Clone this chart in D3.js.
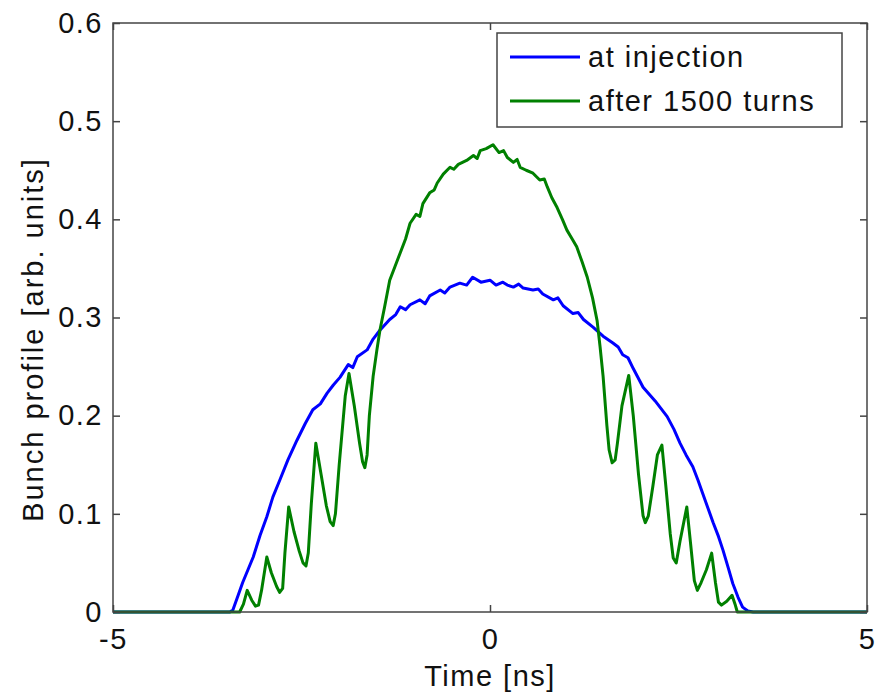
<!DOCTYPE html>
<html>
<head>
<meta charset="utf-8">
<script src="https://cdn.jsdelivr.net/npm/d3@7"></script>
<style>
  body { margin: 0; background: #fff; }
  text { font-family: "Liberation Sans", Arial, sans-serif; fill: #111; }
</style>
</head>
<body>
<div id="chart"></div>
<script>
// bunch profile, [time ns, value]
const atInjection = [
  [-5, 0], [-3.45, 0], [-3.41, 0.002], [-3.34, 0.017], [-3.28, 0.030], [-3.21, 0.043],
  [-3.14, 0.056], [-3.05, 0.078], [-2.96, 0.097], [-2.88, 0.117], [-2.79, 0.134],
  [-2.68, 0.155], [-2.56, 0.175], [-2.45, 0.192], [-2.35, 0.206], [-2.25, 0.212],
  [-2.16, 0.223], [-2.08, 0.231], [-1.99, 0.239], [-1.88, 0.252], [-1.82, 0.249],
  [-1.76, 0.260], [-1.63, 0.267], [-1.55, 0.278], [-1.46, 0.287], [-1.33, 0.298],
  [-1.25, 0.303], [-1.19, 0.311], [-1.12, 0.308], [-1.06, 0.313], [-0.93, 0.318],
  [-0.86, 0.314], [-0.80, 0.322], [-0.66, 0.328], [-0.60, 0.325], [-0.53, 0.331],
  [-0.40, 0.335], [-0.31, 0.333], [-0.23, 0.341], [-0.12, 0.336], [0, 0.338],
  [0.08, 0.333], [0.17, 0.336], [0.23, 0.333], [0.31, 0.331], [0.38, 0.334],
  [0.44, 0.330], [0.57, 0.328], [0.64, 0.329], [0.70, 0.324], [0.84, 0.318],
  [0.90, 0.320], [0.97, 0.312], [1.10, 0.304], [1.17, 0.305], [1.24, 0.298],
  [1.37, 0.290], [1.50, 0.281], [1.63, 0.274], [1.70, 0.270], [1.76, 0.262],
  [1.83, 0.259], [1.90, 0.248], [2.03, 0.229], [2.19, 0.215], [2.35, 0.199],
  [2.44, 0.186], [2.52, 0.172], [2.60, 0.160], [2.69, 0.148], [2.76, 0.134],
  [2.82, 0.121], [2.89, 0.106], [2.96, 0.091], [3.03, 0.077], [3.09, 0.063],
  [3.16, 0.045], [3.22, 0.029], [3.29, 0.015], [3.35, 0.005], [3.42, 0.001],
  [3.49, 0], [5, 0]
];

const after1500 = [
  [-5, 0], [-3.32, 0], [-3.27, 0.008], [-3.22, 0.022], [-3.16, 0.012], [-3.11, 0.006],
  [-3.07, 0.007], [-3.03, 0.022], [-2.96, 0.056], [-2.9, 0.040], [-2.83, 0.026],
  [-2.79, 0.020], [-2.75, 0.024], [-2.72, 0.060], [-2.67, 0.107], [-2.6, 0.082],
  [-2.53, 0.062], [-2.48, 0.050], [-2.44, 0.047], [-2.41, 0.060], [-2.37, 0.110],
  [-2.31, 0.172], [-2.24, 0.140], [-2.17, 0.108], [-2.12, 0.092], [-2.08, 0.088],
  [-2.05, 0.100], [-2.0, 0.150], [-1.92, 0.220], [-1.87, 0.243], [-1.8, 0.210],
  [-1.73, 0.172], [-1.69, 0.153], [-1.66, 0.147], [-1.63, 0.160], [-1.6, 0.200],
  [-1.55, 0.240], [-1.50, 0.267], [-1.46, 0.287], [-1.40, 0.310], [-1.33, 0.338],
  [-1.26, 0.352], [-1.19, 0.366], [-1.12, 0.380], [-1.06, 0.396], [-0.98, 0.405],
  [-0.93, 0.403], [-0.89, 0.416], [-0.80, 0.427], [-0.74, 0.430], [-0.70, 0.437],
  [-0.62, 0.446], [-0.53, 0.453], [-0.48, 0.451], [-0.42, 0.456], [-0.31, 0.460],
  [-0.22, 0.465], [-0.17, 0.462], [-0.13, 0.470], [-0.05, 0.472], [0.04, 0.476],
  [0.12, 0.468], [0.18, 0.470], [0.23, 0.463], [0.31, 0.458], [0.36, 0.461],
  [0.40, 0.453], [0.48, 0.450], [0.57, 0.447], [0.66, 0.440], [0.72, 0.441],
  [0.76, 0.433], [0.82, 0.422], [0.89, 0.412], [0.96, 0.400], [1.02, 0.389],
  [1.09, 0.380], [1.15, 0.372], [1.22, 0.357], [1.29, 0.341], [1.36, 0.320],
  [1.42, 0.297], [1.46, 0.270], [1.5, 0.240], [1.55, 0.190], [1.58, 0.165],
  [1.62, 0.152], [1.66, 0.155], [1.69, 0.172], [1.75, 0.210], [1.84, 0.241],
  [1.9, 0.200], [1.97, 0.140], [2.03, 0.098], [2.06, 0.091], [2.10, 0.098],
  [2.16, 0.128], [2.22, 0.160], [2.28, 0.170], [2.33, 0.130], [2.39, 0.080],
  [2.43, 0.055], [2.47, 0.050], [2.52, 0.072], [2.61, 0.107], [2.66, 0.070],
  [2.71, 0.032], [2.75, 0.022], [2.80, 0.030], [2.87, 0.043], [2.94, 0.060],
  [2.99, 0.030], [3.03, 0.010], [3.07, 0.007], [3.14, 0.011], [3.21, 0.017],
  [3.25, 0.008], [3.28, 0], [5, 0]
];

const seriesNames = ["at injection", "after 1500 turns"];
const seriesColors = ["#0000ff", "#008000"];
const xTicks = [-5, 0, 5];
const yTicks = [0, 0.1, 0.2, 0.3, 0.4, 0.5, 0.6];

const margin = { top: 23, right: 11, bottom: 86, left: 113 };
const width = 878 - margin.left - margin.right;
const height = 698 - margin.top - margin.bottom;

const svg = d3.select("#chart")
    .append("svg")
    .attr("width", 878)
    .attr("height", 698)
    .append("g")
    .attr("transform", `translate(${margin.left},${margin.top})`);

const xScale = d3.scaleLinear().domain([-5, 5]).range([0, width]);
const yScale = d3.scaleLinear().domain([0, 0.6]).range([height, 0]);

const line = d3.line()
    .x(d => xScale(d[0]))
    .y(d => yScale(d[1]));

// curves first, box on top of them
[atInjection, after1500].forEach((data, i) => {
    svg.append("path")
        .datum(data)
        .attr("fill", "none")
        .attr("stroke", seriesColors[i])
        .attr("stroke-width", 3)
        .attr("stroke-linejoin", "round")
        .attr("d", line);
});

const fontSize = "29px";

// axes, ticks pointing inward like matlab
const xAxis = d3.axisBottom(xScale).tickValues(xTicks).tickSize(-7).tickPadding(16)
    .tickFormat(d => String(d));
const yAxis = d3.axisLeft(yScale).tickValues(yTicks).tickSize(-7).tickPadding(10)
    .tickFormat(d => d === 0 ? "0" : d3.format(".1f")(d));

svg.append("g").attr("transform", `translate(0,${height})`).call(xAxis);
svg.append("g").call(yAxis);
svg.append("g").call(d3.axisTop(xScale).tickValues(xTicks).tickSize(-7).tickFormat(""));
svg.append("g").attr("transform", `translate(${width},0)`)
    .call(d3.axisRight(yScale).tickValues(yTicks).tickSize(-7).tickFormat(""));

svg.selectAll(".domain").remove();
svg.selectAll(".tick line").attr("stroke", "#444").attr("stroke-width", 1.5);
svg.selectAll(".tick text")
    .style("font-size", fontSize)
    .style("letter-spacing", "1.5px")
    .attr("fill", "#111");

svg.append("rect")
    .attr("width", width)
    .attr("height", height)
    .attr("fill", "none")
    .attr("stroke", "#444")
    .attr("stroke-width", 1.5);

svg.append("text")
    .attr("x", width / 2)
    .attr("y", height + 74)
    .attr("text-anchor", "middle")
    .style("font-size", fontSize)
    .style("letter-spacing", "1.5px")
    .text("Time [ns]");

svg.append("text")
    .attr("transform", "rotate(-90)")
    .attr("x", -height / 2 - 22)
    .attr("y", -margin.left + 43)
    .attr("text-anchor", "middle")
    .style("font-size", fontSize)
    .style("letter-spacing", "2px")
    .text("Bunch profile [arb. units]");

// legend
const legend = svg.append("g").attr("transform", `translate(${497 - margin.left},${33 - margin.top})`);
legend.append("rect")
    .attr("width", 345)
    .attr("height", 94)
    .attr("fill", "#fff")
    .attr("stroke", "#444")
    .attr("stroke-width", 1.5);

seriesNames.forEach((name, i) => {
    const y = 24 + i * 44;
    legend.append("line")
        .attr("x1", 13).attr("x2", 83)
        .attr("y1", y).attr("y2", y)
        .attr("stroke", seriesColors[i])
        .attr("stroke-width", 3);
    legend.append("text")
        .attr("x", 91)
        .attr("y", y + 10)
        .style("font-size", fontSize)
        .style("letter-spacing", "1.5px")
        .text(name);
});
</script>
</body>
</html>
